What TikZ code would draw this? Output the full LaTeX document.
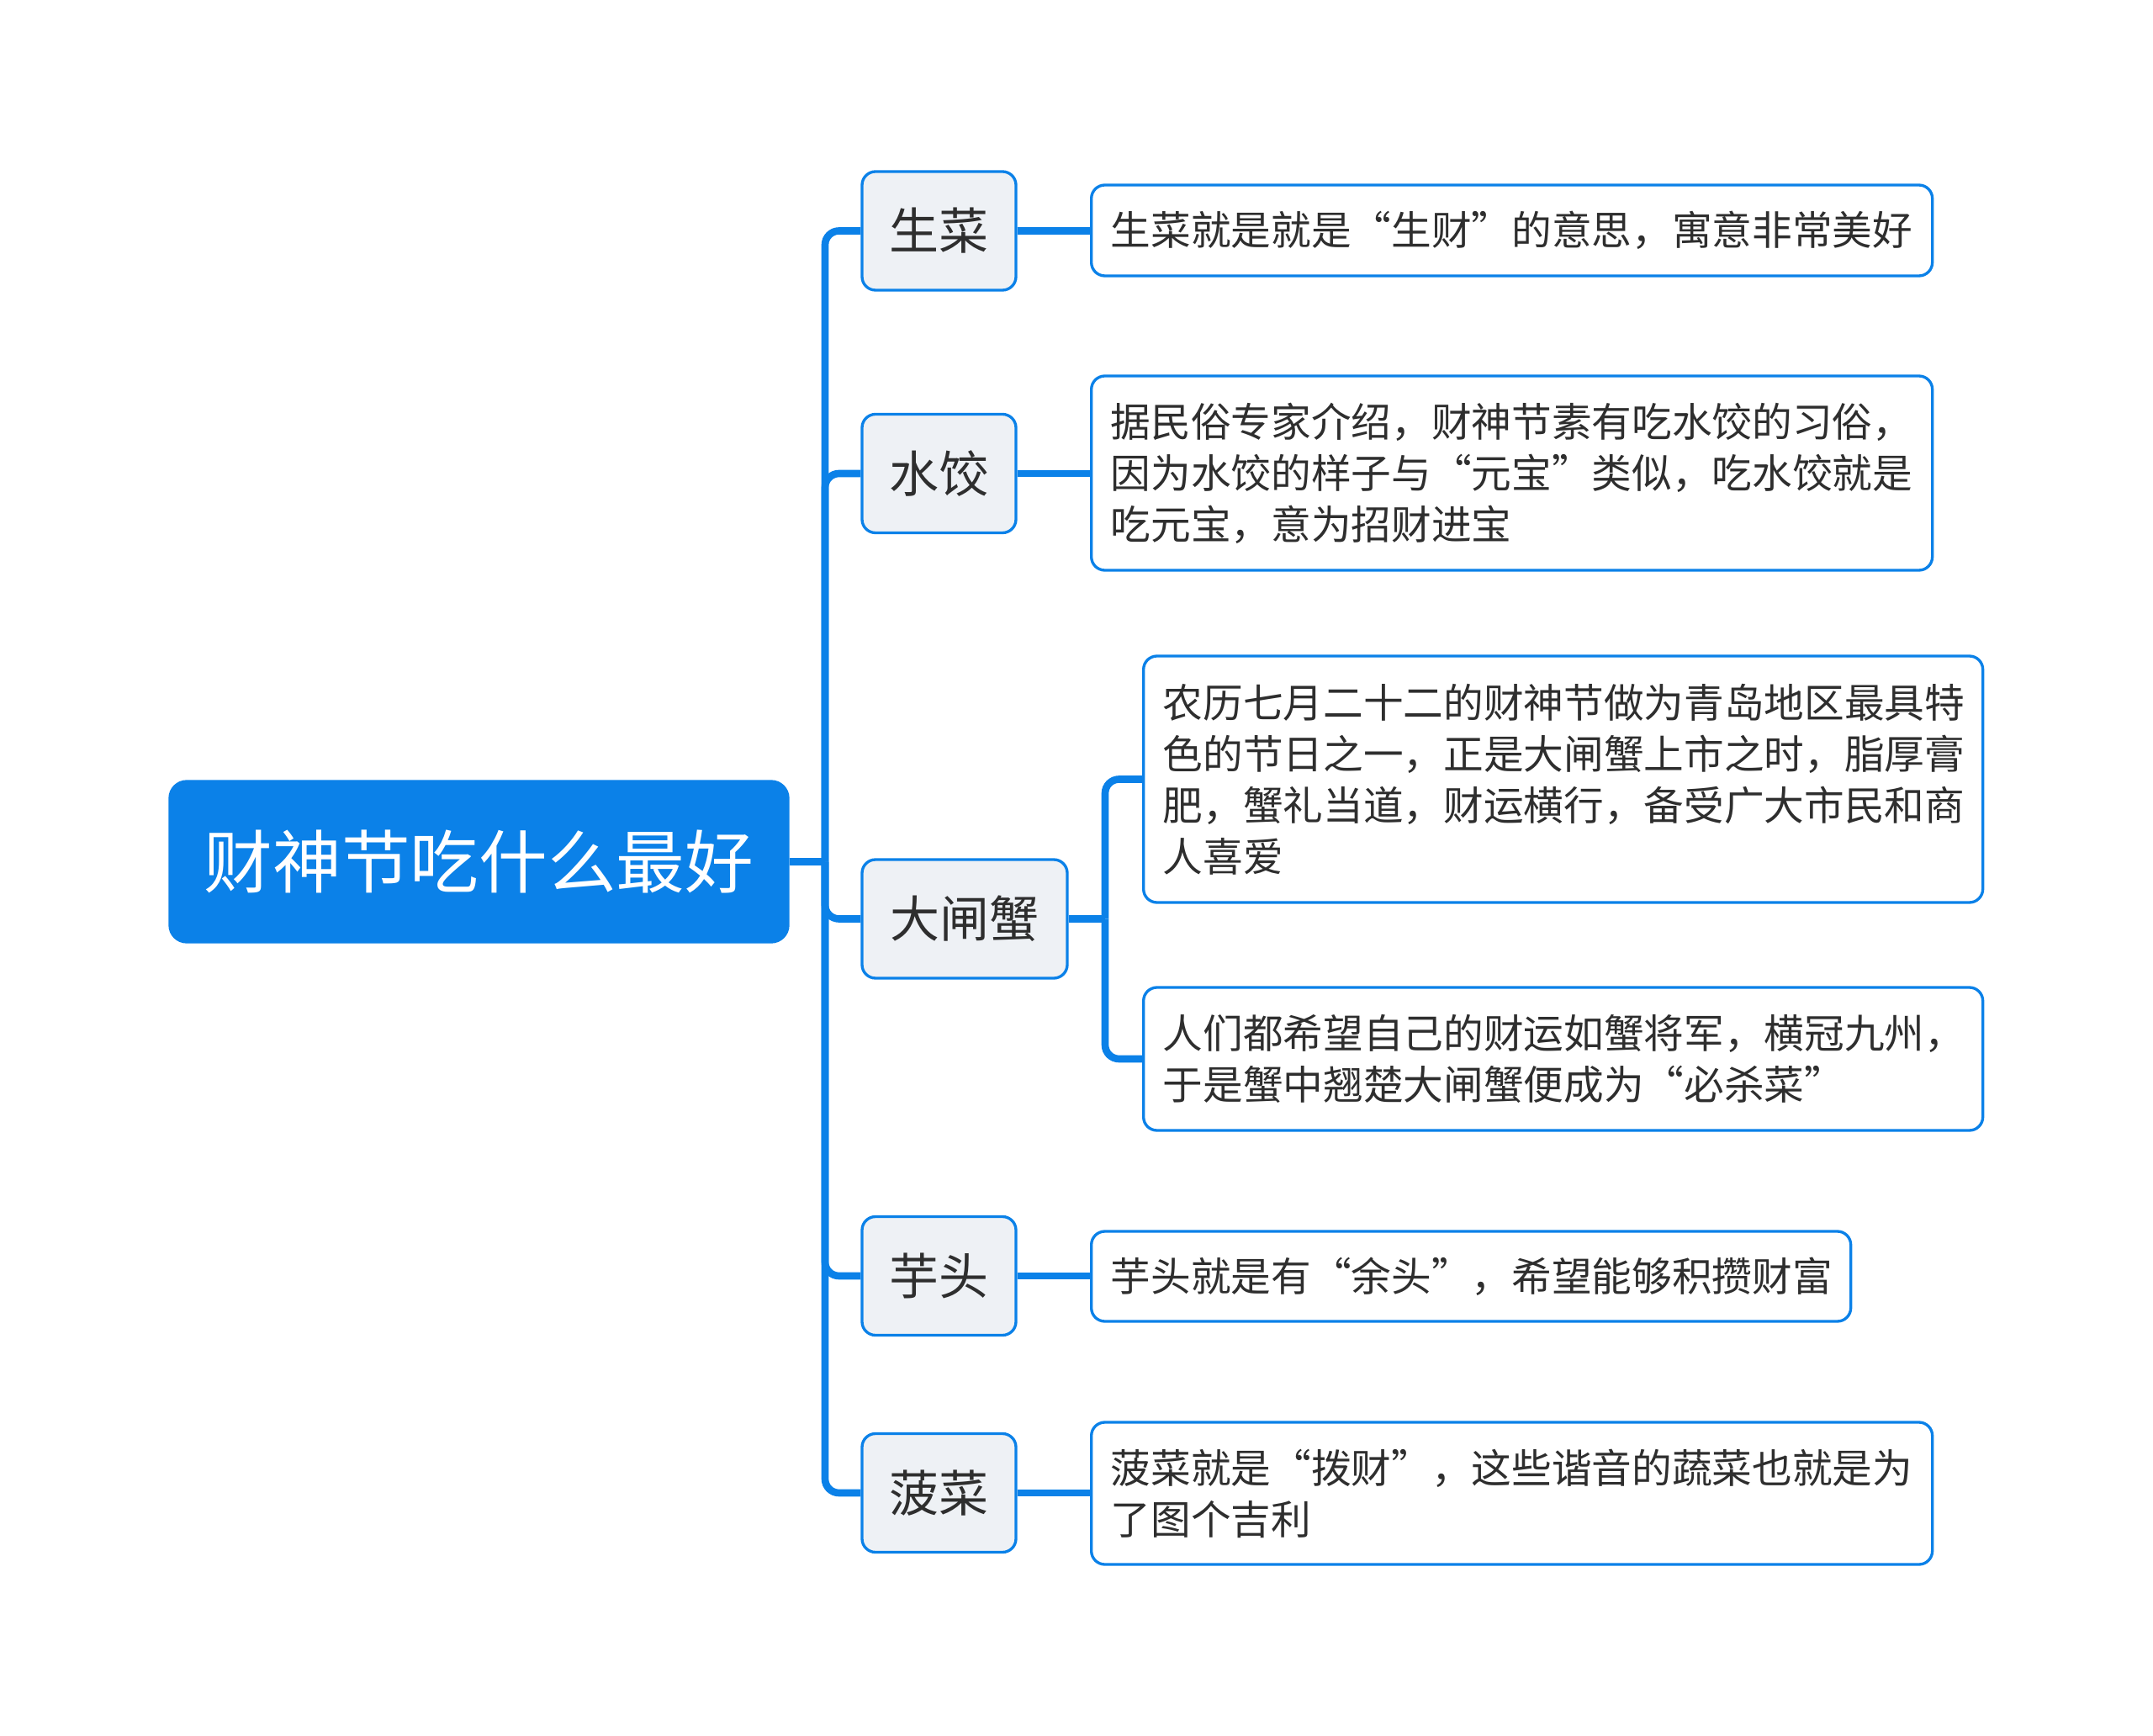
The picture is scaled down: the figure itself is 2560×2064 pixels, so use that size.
\documentclass[tikz,border=0pt]{standalone}
\usepackage{fontspec}
\setmainfont{Noto Sans CJK SC}[CharacterWidth=Full]
\definecolor{mblue}{HTML}{0B81E8}
\definecolor{lgray}{HTML}{EEF1F5}
\definecolor{tgray}{HTML}{2E2E2E}
\begin{document}
\begin{tikzpicture}[x=0.3pt,y=-0.3pt,
 rootbox/.style={rectangle, rounded corners=6pt, fill=mblue, draw=mblue, line width=1pt, text=white, font=\fontsize{24.5pt}{30pt}\selectfont, minimum width=220.5pt, minimum height=57.3pt, inner sep=0pt},
 topicbox/.style={rectangle, rounded corners=4.8pt, fill=lgray, draw=mblue, line width=1pt, text=tgray, font=\fontsize{17.7pt}{22pt}\selectfont, minimum height=42.3pt, inner sep=0pt},
 descbox/.style={rectangle, rounded corners=4.8pt, fill=white, draw=mblue, line width=1pt, text=tgray, font=\fontsize{14.3pt}{18.3pt}\selectfont, align=left, anchor=west, inner xsep=6.9pt, inner ysep=2pt},
 link/.style={draw=mblue, line width=2.6pt},
 branch/.style={link, rounded corners=5pt}]
\useasboundingbox (0,0) rectangle (2560,2064);

% root
\node[rootbox] (root) at (569.5,1024.5) {财神节吃什么最好};

% main topics
\node[topicbox, minimum width=54.9pt] (t1) at (1116.5,274.5) {生菜};
\node[topicbox, minimum width=54.9pt] (t2) at (1116.5,563) {水饺};
\node[topicbox, minimum width=73.2pt] (t3) at (1147,1092.5) {大闸蟹};
\node[topicbox, minimum width=54.9pt] (t4) at (1116.5,1517) {芋头};
\node[topicbox, minimum width=54.9pt] (t5) at (1116.5,1775) {菠菜};

% descriptions
\node[descbox, text width=286.2pt, minimum height=32.4pt] (d1) at (1296,274) {生菜就是就是“生财”的意思，寓意非常美好};
\node[descbox, text width=286.2pt, minimum height=69.3pt] (d2) at (1296,562.5) {据民俗专家介绍，财神节素有吃水饺的习俗，\\因为水饺的样子与“元宝”类似，吃水饺就是\\吃元宝，意为招财进宝};
\node[descbox, text width=285.6pt, minimum height=87.9pt] (d3a) at (1358,926.5) {农历七月二十二的财神节做为青岛地区最具特\\色的节日之一，正是大闸蟹上市之时，脂厚膏\\肥，蟹礼当道，财运横行，备受广大市民和商\\人喜爱};
\node[descbox, text width=285.6pt, minimum height=51pt] (d3b) at (1358,1259) {人们都希望自己的财运如蟹将军，横冠九州，\\于是蟹中翘楚大闸蟹便成为“必杀菜”};
\node[descbox, text width=257.1pt, minimum height=32.1pt] (d4) at (1296,1517.5) {芋头就是有“余头”，希望能够积攒财富};
\node[descbox, text width=286.2pt, minimum height=50.7pt] (d5) at (1296,1775.5) {菠菜就是“拨财”，这些谐音的蔬菜也就是为\\了图个吉利};

% connectors
\coordinate (j1) at (981,1024.5);
\draw[link] (root.east) -- (j1);
\foreach \t in {t1,t2,t3,t4,t5} {
  \draw[branch] (j1) |- (\t.west);
}
\coordinate (j2) at (1314,1092.5);
\draw[link] (t3.east) -- (j2);
\draw[branch] (j2) |- (d3a.west);
\draw[branch] (j2) |- (d3b.west);
\draw[link] (t1.east) -- (t1.east -| d1.west);
\draw[link] (t2.east) -- (t2.east -| d2.west);
\draw[link] (t4.east) -- (t4.east -| d4.west);
\draw[link] (t5.east) -- (t5.east -| d5.west);
\end{tikzpicture}
\end{document}
